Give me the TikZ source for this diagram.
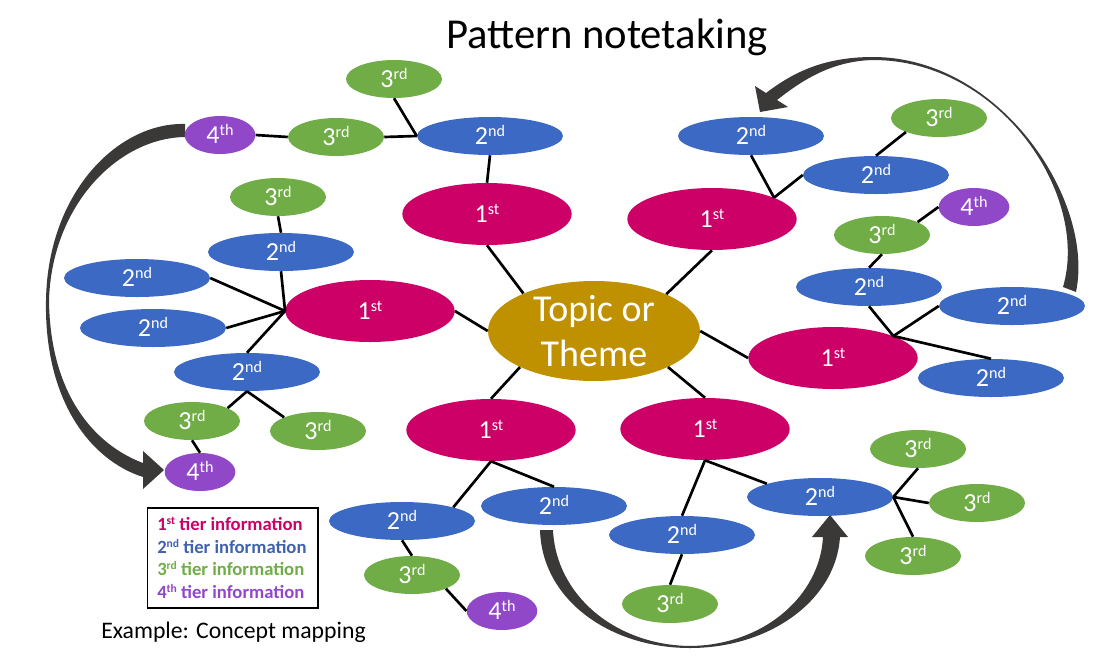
\documentclass[tikz,border=0pt]{standalone}
\usepackage{fontspec}
\setmainfont{Carlito}
\usepackage{graphicx}
\usetikzlibrary{shapes.geometric}
\definecolor{firstc}{HTML}{CC0066}
\definecolor{secondc}{HTML}{3C69C3}
\definecolor{thirdc}{HTML}{70AD47}
\definecolor{fourthc}{HTML}{9148C8}
\definecolor{topicc}{HTML}{BF9000}
\definecolor{arrowc}{HTML}{3B3838}
\definecolor{legtwo}{HTML}{4062AE}
\newcommand{\ordsup}[1]{\raisebox{0.32em}[0pt][0pt]{\scalebox{0.62}{#1}}}
\newcommand{\oFirst}{1\ordsup{st}}
\newcommand{\oSecond}{2\ordsup{nd}}
\newcommand{\oThird}{3\ordsup{rd}}
\newcommand{\oFourth}{4\ordsup{th}}
\tikzset{
  bub/.style={ellipse, inner sep=0pt, text=white, font=\fontsize{19.5}{21}\selectfont},
  tone/.style={bub, fill=firstc, minimum width=127pt, minimum height=46.5pt},
  ttwo/.style={bub, fill=secondc, minimum width=109.5pt, minimum height=28.5pt},
  tthree/.style={bub, fill=thirdc, minimum width=72pt, minimum height=28.5pt},
  tfour/.style={bub, fill=fourthc, minimum width=53pt, minimum height=28.5pt},
  topicstyle/.style={ellipse, fill=topicc, text=white, inner xsep=0pt, inner ysep=-4pt,
    minimum width=159pt, minimum height=75pt, align=center, font=\fontsize{28.5}{34}\selectfont},
  link/.style={line width=2pt, black},
  legtxt/.style={anchor=west, inner sep=0pt, font=\fontsize{14}{16}\selectfont\bfseries},
  bigarrow/.style={fill=arrowc},
}
\begin{document}
\begin{tikzpicture}[x=0.75pt,y=-0.75pt]
\useasboundingbox (0,0) rectangle (1110,668);

% curved arrows
\fill[bigarrow] (185,124) .. controls (120,122) and (48,190) .. (46,300)
  .. controls (44,400) and (90,460) .. (143,477) -- (143,489) -- (164,470) -- (143,451) -- (143,463)
  .. controls (95,445) and (50,395) .. (49,300)
  .. controls (52,205) and (118,138) .. (185,137) -- cycle;
\fill[bigarrow] (540,530) .. controls (542,600) and (610,648) .. (690,648)
  .. controls (770,648) and (836,600) .. (840,537) -- (848,537) -- (830,515) -- (812,537) -- (823,537)
  .. controls (820,595) and (765,645) .. (690,646)
  .. controls (615,645) and (556,595) .. (553,530) -- cycle;
\fill[bigarrow] (1076,292) .. controls (1095,200) and (1000,57) .. (873,57)
  .. controls (820,57) and (790,75) .. (766,93) -- (755,86) -- (760,112) -- (788,107) -- (777,100)
  .. controls (800,82) and (830,61) .. (873,60)
  .. controls (1000,60) and (1090,195) .. (1063,287) -- cycle;

% title
\node[font=\fontsize{32}{36}\selectfont, anchor=base, inner sep=0pt] (title) at (607,48) {Pattern notetaking};

% centre
\node[topicstyle] (T) at (594,331) {Topic or\\Theme};

% upper-left branch
\node[tone] (A1) at (487,214) {\oFirst};
\node[ttwo] (A2) at (490,136) {\oSecond};
\node[tthree] (A3a) at (394,79) {\oThird};
\node[tthree] (A3b) at (336,137) {\oThird};
\node[tfour] (A4) at (220,135) {\oFourth};

% left branch
\node[tone] (B1) at (370,311) {\oFirst};
\node[ttwo] (B2a) at (281,252) {\oSecond};
\node[tthree] (B3a) at (278,197) {\oThird};
\node[ttwo] (B2b) at (137,278) {\oSecond};
\node[ttwo] (B2c) at (153,328) {\oSecond};
\node[ttwo] (B2d) at (247,372) {\oSecond};
\node[tthree] (B3b) at (192,421) {\oThird};
\node[tthree] (B3c) at (318,431) {\oThird};
\node[tfour] (B4) at (200,472) {\oFourth};

% lower-left branch
\node[tone] (C1) at (491,430) {\oFirst};
\node[ttwo] (C2a) at (402,521) {\oSecond};
\node[ttwo] (C2b) at (554,506) {\oSecond};
\node[tthree] (C3) at (412,575) {\oThird};
\node[tfour] (C4) at (502,611) {\oFourth};

% lower-right branch
\node[tone] (D1) at (705,429) {\oFirst};
\node[ttwo] (D2a) at (682,535) {\oSecond};
\node[ttwo] (D2b) at (820,497) {\oSecond};
\node[tthree] (D3) at (670,604) {\oThird};
\node[tthree] (D3a) at (918,449) {\oThird};
\node[tthree] (D3b) at (977,503) {\oThird};
\node[tthree] (D3c) at (913,556) {\oThird};

% right branch
\node[tone] (E1) at (833,358) {\oFirst};
\node[ttwo] (E2a) at (869,287) {\oSecond};
\node[ttwo] (E2b) at (1012,306) {\oSecond};
\node[ttwo] (E2c) at (991,378) {\oSecond};
\node[tthree] (E3) at (882,235) {\oThird};
\node[tfour] (E4) at (974,207) {\oFourth};

% upper-right branch
\node[tone] (F1) at (712,219) {\oFirst};
\node[ttwo] (F2a) at (751,136) {\oSecond};
\node[ttwo] (F2b) at (876,175) {\oSecond};
\node[tthree] (F3) at (939,118) {\oThird};

% connectors
\draw[link] (T.152) -- (A1.south);
\draw[link] (A1.north) -- (A2.south);
\draw[link] (A2.west) -- (A3a.south);
\draw[link] (A2.west) -- (A3b.east);
\draw[link] (A3b.west) -- (A4.east);

\draw[link] (T.west) -- (B1.east);
\draw[link] (B1.west) -- (B2a.south);
\draw[link] (B1.west) -- (B2b.east);
\draw[link] (B1.west) -- (B2c.east);
\draw[link] (B1.west) -- (B2d.north);
\draw[link] (B2a.north) -- (B3a.south);
\draw[link] (B2d.south) -- (B3b.20);
\draw[link] (B2d.south) -- (B3c.158);
\draw[link] (B3b.south) -- (B4.north);

\draw[link] (T.206) -- (C1.north);
\draw[link] (C1.south) -- (C2a.15);
\draw[link] (C1.south) -- (C2b.north);
\draw[link] (C2a.south) -- (C3.north);
\draw[link] (C3.-22) -- (C4.west);

\draw[link] (T.-26) -- (D1.north);
\draw[link] (D1.south) -- (D2b.166);
\draw[link] (D1.south) -- (D2a.north);
\draw[link] (D2a.south) -- (D3.north);
\draw[link] (D2b.east) -- (D3a.south);
\draw[link] (D2b.east) -- (D3b.west);
\draw[link] (D2b.east) -- (D3c.north);

\draw[link] (T.east) -- (E1.west);
\draw[link] (E1.20) -- (E2a.south);
\draw[link] (E1.20) -- (E2b.west);
\draw[link] (E1.20) -- (E2c.north);
\draw[link] (E2a.north) -- (E3.south);
\draw[link] (E3.20) -- (E4.west);

\draw[link] (T.27) -- (F1.south);
\draw[link] (F1.19) -- (F2a.south);
\draw[link] (F1.19) -- (F2b.west);
\draw[link] (F2b.north) -- (F3.203);

% legend
\node[draw, line width=1pt, minimum width=127.9pt, minimum height=75pt, inner sep=0pt] (legbox) at (232.75,558) {};
\node[legtxt, text=firstc] (leg1) at (157,524) {\oFirst{} tier information};
\node[legtxt, text=legtwo] (leg2) at (157,547) {\oSecond{} tier information};
\node[legtxt, text=thirdc] (leg3) at (157,569) {\oThird{} tier information};
\node[legtxt, text=fourthc] (leg4) at (157,592) {\oFourth{} tier information};

\node[anchor=base west, inner sep=0pt, font=\fontsize{17.8}{20}\selectfont] (caption) at (101,638) {Example: Concept mapping};
\end{tikzpicture}
\end{document}
